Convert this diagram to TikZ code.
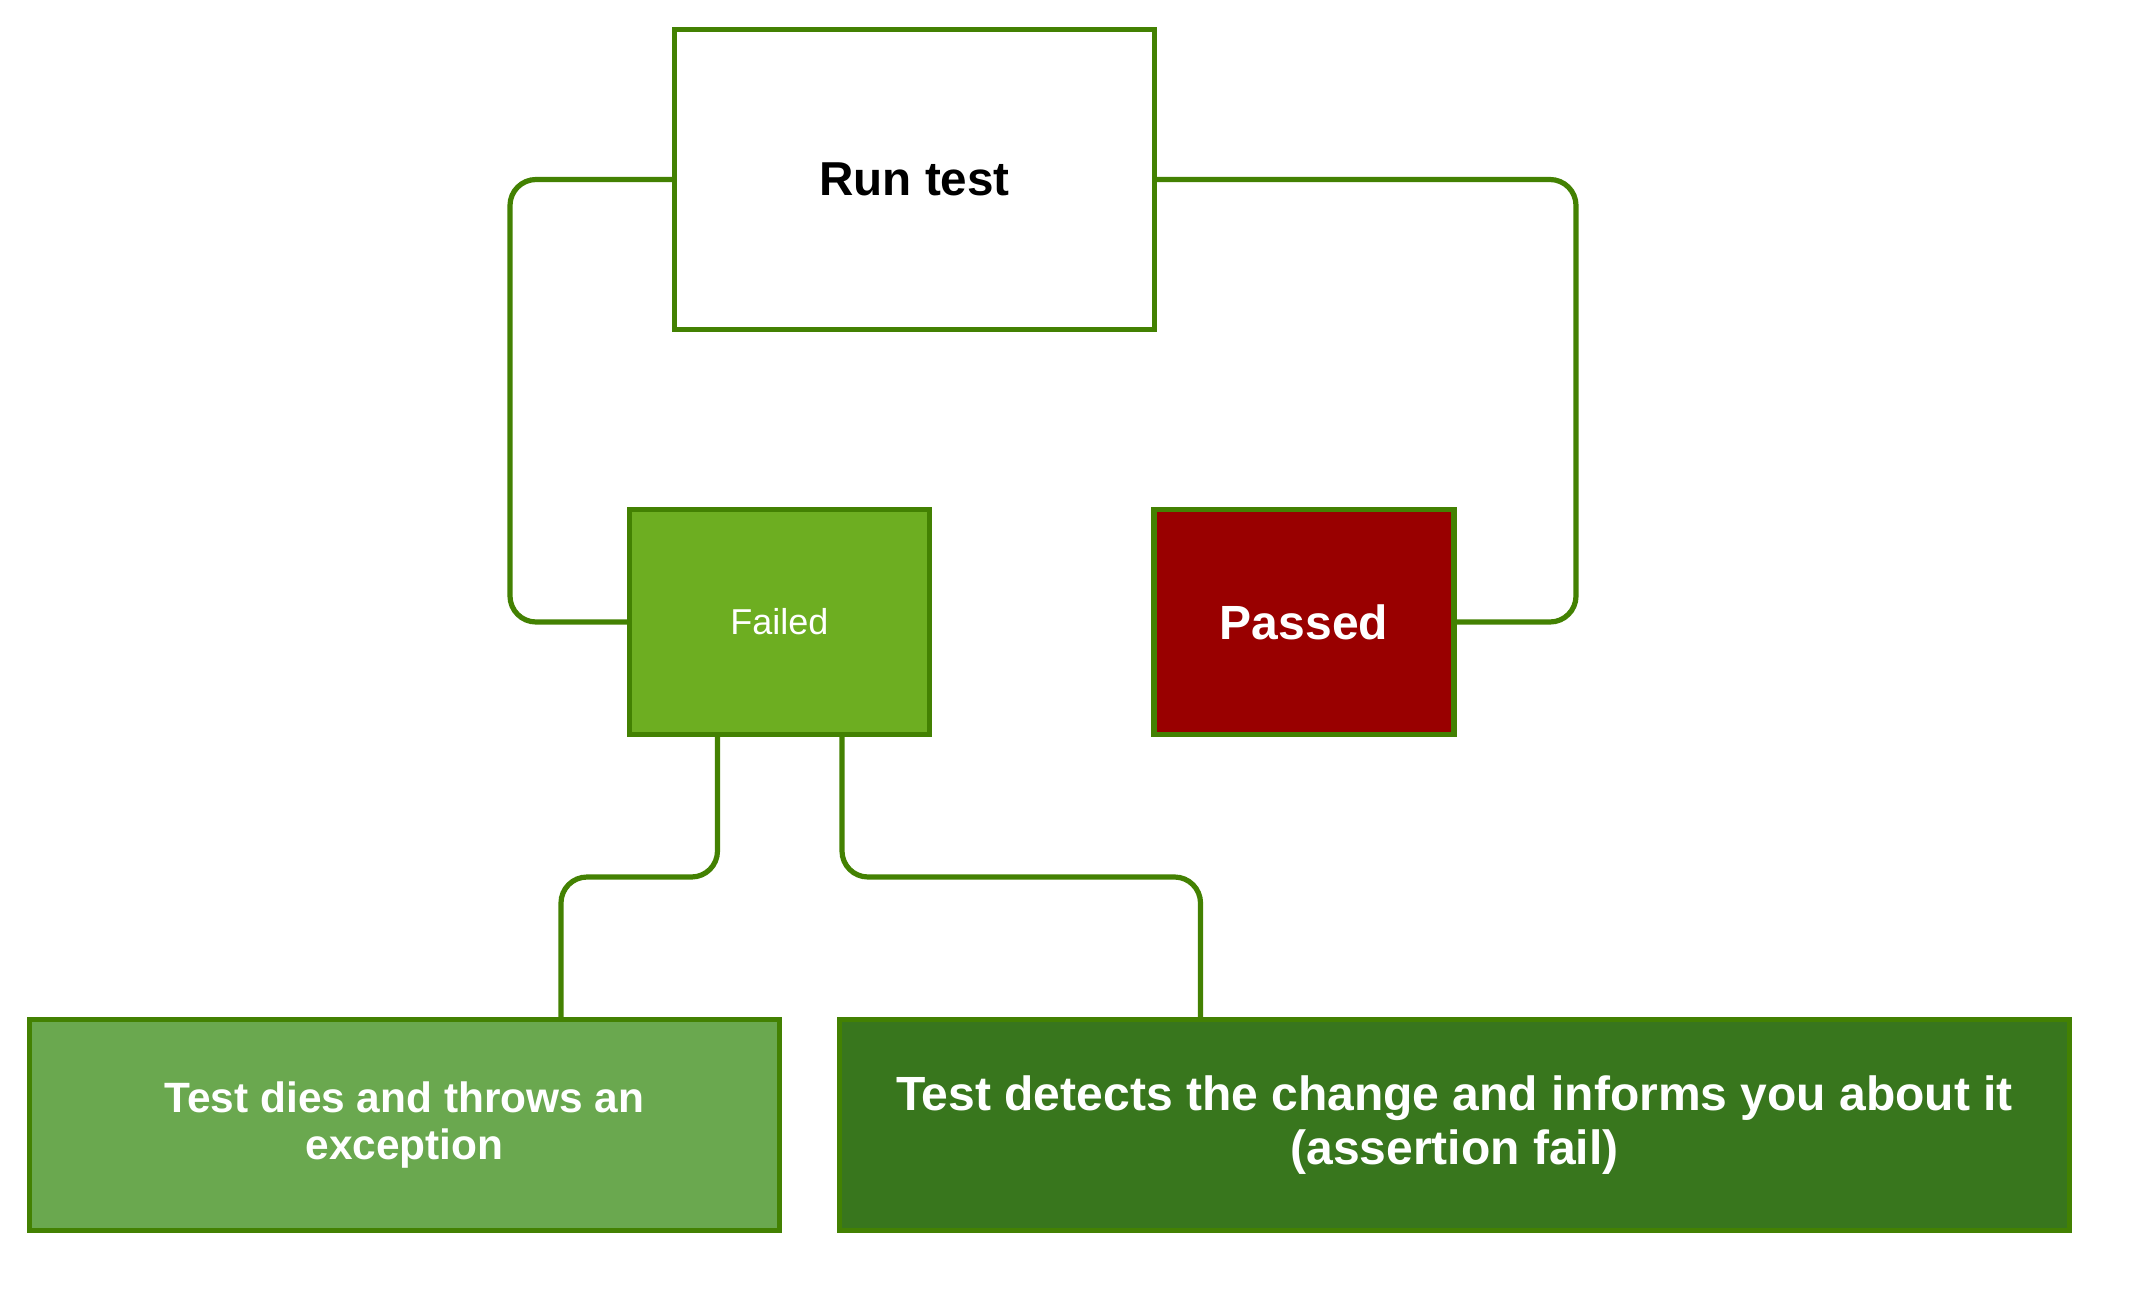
\documentclass[tikz,border=0pt]{standalone}
\usepackage{fontspec}
\setmainfont{Liberation Sans}
\usetikzlibrary{calc}
\definecolor{edgegreen}{HTML}{438102}
\definecolor{failfill}{HTML}{6DAE21}
\definecolor{passfill}{HTML}{990000}
\definecolor{diesfill}{HTML}{6AA84F}
\definecolor{detfill}{HTML}{38761D}
\tikzset{
  box/.style={draw=edgegreen, line width=2.6pt, rectangle, inner sep=0pt, align=center},
  conn/.style={draw=edgegreen, line width=2.6pt, rounded corners=13pt},
}
\begin{document}
\begin{tikzpicture}[x=0.5pt,y=-0.5pt]
\useasboundingbox (0,0) rectangle (2130,1290);
\node[box, fill=white, minimum width=240pt, minimum height=150pt,
  font=\fontsize{23.8}{27}\selectfont\bfseries] (run) at (914.5,179.5) {Run test};
\node[box, fill=failfill, text=white, minimum width=150pt, minimum height=112.5pt,
  font=\fontsize{18}{22}\selectfont] (fail) at (779.5,622) {Failed};
\node[box, fill=passfill, text=white, minimum width=150pt, minimum height=112.5pt,
  font=\fontsize{24}{28}\selectfont\bfseries] (pass) at (1304,622) {Passed};
\node[box, fill=diesfill, text=white, minimum width=375pt, minimum height=105.5pt,
  font=\fontsize{21.2}{23.8}\selectfont\bfseries] (dies) at (404.5,1125) {Test dies and throws an\\exception};
\node[box, fill=detfill, text=white, minimum width=615pt, minimum height=105.5pt,
  font=\fontsize{24}{26.7}\selectfont\bfseries] (det) at (1454.5,1125) {Test detects the change and informs you about it\\(assertion fail)};
\draw[conn] (run.west) -- (510,179.5) |- (fail.west);
\draw[conn] (run.east) -- (1576,179.5) |- (pass.east);
\coordinate (fa) at ([xshift=-31pt]fail.south);
\coordinate (fb) at ([xshift=31.25pt]fail.south);
\coordinate (da) at ([xshift=78.25pt]dies.north);
\coordinate (db) at ([xshift=-127pt]det.north);
\draw[conn] (fa) |- ($(fa)!.5!(da)$) -| (da);
\draw[conn] (fb) |- ($(fb)!.5!(db)$) -| (db);
\end{tikzpicture}
\end{document}
